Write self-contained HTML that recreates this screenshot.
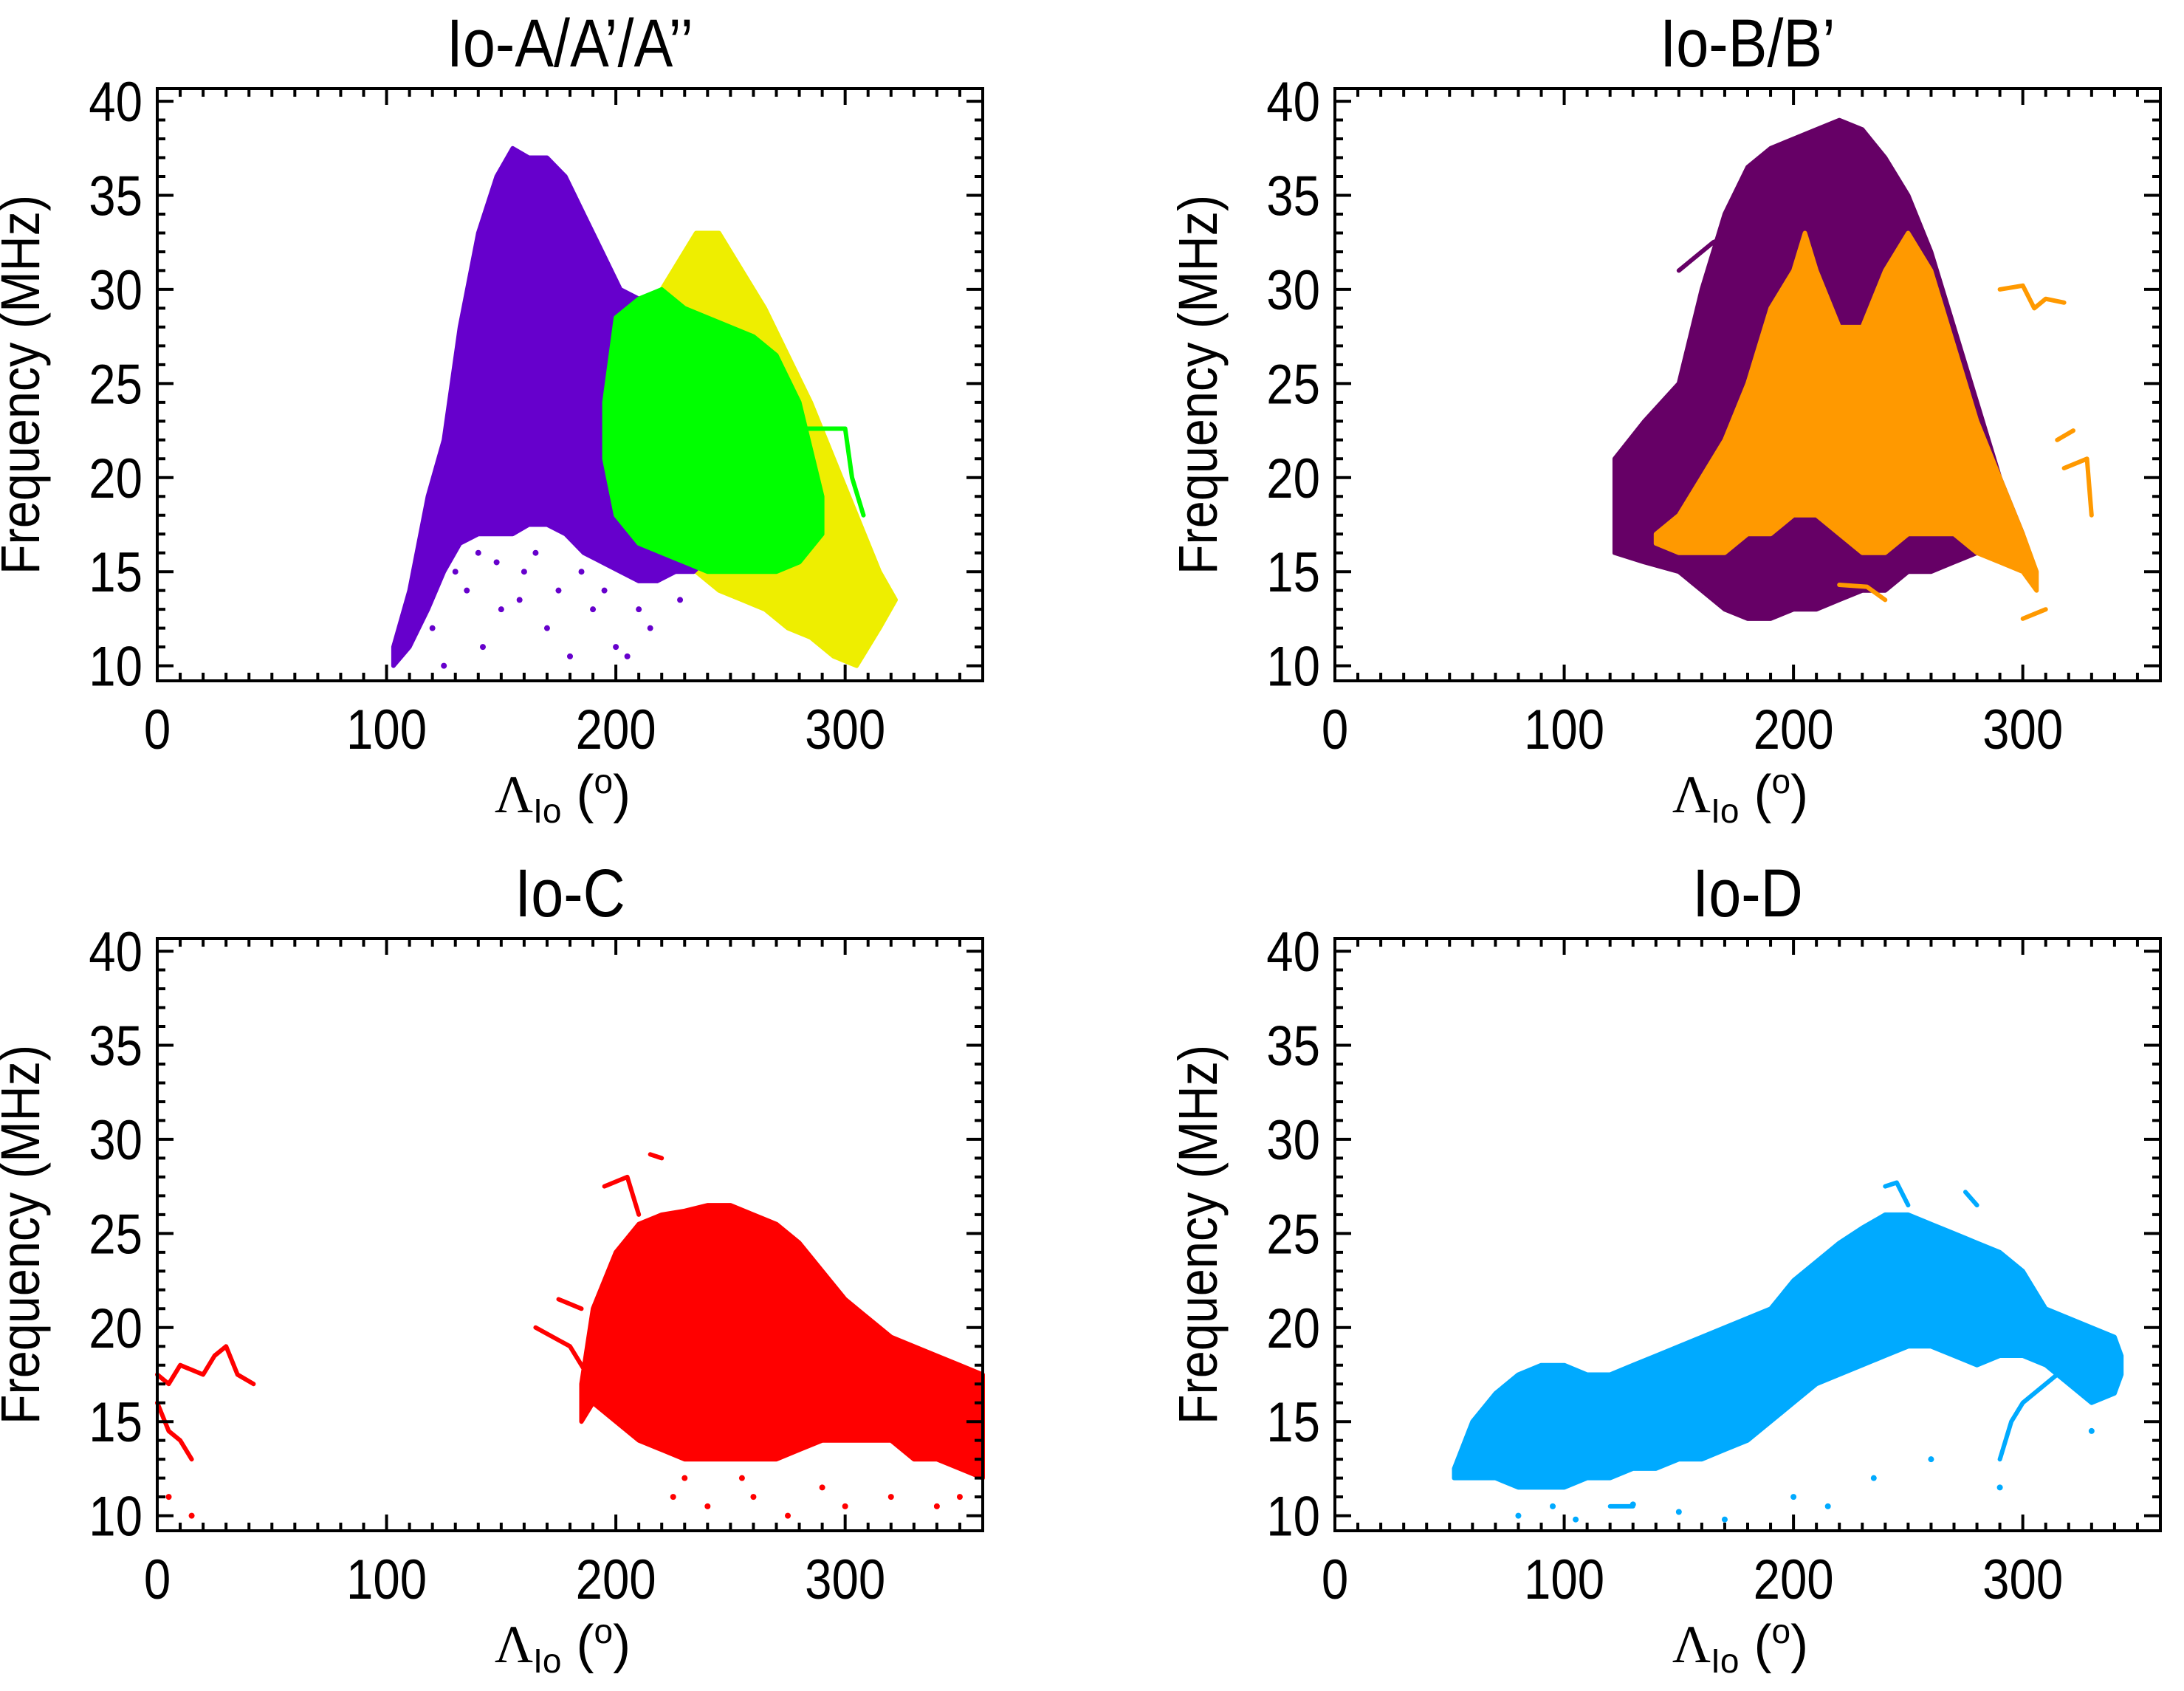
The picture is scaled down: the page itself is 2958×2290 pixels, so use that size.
<!DOCTYPE html>
<html><head><meta charset="utf-8"><style>
html,body{margin:0;padding:0;background:#fff;}
svg{display:block;}
text{font-family:"Liberation Sans",sans-serif;fill:#000;}
</style></head><body>
<svg id="chart" width="2958" height="2290" viewBox="0 0 2958 2290" xmlns="http://www.w3.org/2000/svg"></svg>
<script>
// ---- axis / tick data ----
const xTicks = [0, 100, 200, 300];
const yTicks = [10, 15, 20, 25, 30, 35, 40];
const panelTitles = ["Io-A/A\u2019/A\u2019\u2019", "Io-B/B\u2019", "Io-C", "Io-D"];

// ---- Panel A ----
const aYellowX = [200,220,235,245,255,265,275,285,295,305,315,322];
const aYellowUp = [28,30,33,33,31,29,26.5,24,21,18,15,13.5];
const aYellowLow = [22,18,15,14,13.5,13,12,11.5,10.5,10,12,13.5];
const aPurpleX = [103,110,118,125,132,140,148,155,162,170,178,186,194,202,210,218,226,234,242,250];
const aPurpleUp = [11,14,19,22,28,33,36,37.5,37,37,36,34,32,30,29.5,28,26,23,20,17];
const aPurpleLow = [10,11,13,15,16.5,17,17,17,17.5,17.5,17,16,15.5,15,14.5,14.5,15,15,16,16];
const aGreenX = [195,200,210,220,230,240,250,260,270,280,290];
const aGreenUp = [24,28.5,29.5,30,29,28.5,28,27.5,26.5,24,19];
const aGreenLow = [21,18,16.5,16,15.5,15,15,15,15,15.5,17];
const aGreenLineX = [280,300,303,308];
const aGreenLineY = [22.6,22.6,20,18];
const aPurpleDotsX = [120,135,142,150,160,170,180,190,200,215,228,140,175,205,125,148,158,185,195,210,165,130];
const aPurpleDotsY = [12,14,11,13,15,12,10.5,13,11,12,13.5,16,14,10.5,10,15.5,13.5,15,14,13,16,15];

// ---- Panel B ----
const bPurpleX = [122,135,150,160,170,180,190,200,210,220,230,240,250,260,270,280,290,300];
const bPurpleUp = [21,23,25,30,34,36.5,37.5,38,38.5,39,38.5,37,35,32,28,24,20,17];
const bPurpleLow = [16,15.5,15,14,13,12.5,12.5,13,13,13.5,14,14,15,15,15.5,16,16,16];
const bOrangeX = [140,150,160,170,180,190,200,205,210,220,230,240,250,260,270,280,290,300,306];
const bOrangeUp = [17,18,20,22,25,29,31,33,31,28,28,31,33,31,27,23,20,17,15];
const bOrangeLow = [16.5,16,16,16,17,17,18,18,18,17,16,16,17,17,17,16,15.5,15,14];
const bOrangeSegX = [[290,300,305,310,318],[315,322],[318,328,330],[220,232,240],[300,310]];
const bOrangeSegY = [[30,30.2,29,29.5,29.3],[22,22.5],[20.5,21,18],[14.3,14.2,13.5],[12.5,13]];
const bPurpleSegX = [[150,165,175]];
const bPurpleSegY = [[31,32.5,33]];

// ---- Panel C ----
const cRedX = [185,190,200,210,220,230,240,250,260,270,280,290,300,310,320,330,340,350,360];
const cRedUp = [17,21,24,25.5,26,26.2,26.5,26.5,26,25.5,24.5,23,21.5,20.5,19.5,19,18.5,18,17.5];
const cRedLow = [15,16,15,14,13.5,13,13,13,13,13,13.5,14,14,14,14,13,13,12.5,12];
const cRedSegX = [[0,5,10,20,25,30,35,42],[0,5,10,15],[165,180,190],[195,205,210],[215,220],[175,185]];
const cRedSegY = [[17.5,17,18,17.5,18.5,19,17.5,17],[16,14.5,14,13],[20,19,17],[27.5,28,26],[29.2,29],[21.5,21]];
const cRedDotsX = [5,15,225,240,260,275,290,300,320,340,350,230,255];
const cRedDotsY = [11,10,11,10.5,11,10,11.5,10.5,11,10.5,11,12,12];

// ---- Panel D ----
const dBlueX = [52,60,70,80,90,100,110,120,130,140,150,160,170,180,190,200,210,220,230,240,250,260,270,280,290,300,310,320,330,340,343];
const dBlueUp = [12.5,15,16.5,17.5,18,18,17.5,17.5,18,18.5,19,19.5,20,20.5,21,22.5,23.5,24.5,25.3,26,26,25.5,25,24.5,24,23,21,20.5,20,19.5,18.5];
const dBlueLow = [12,12,12,11.5,11.5,11.5,12,12,12.5,12.5,13,13,13.5,14,15,16,17,17.5,18,18.5,19,19,18.5,18,18.5,18.5,18,17,16,16.5,17.5];
const dBlueSegX = [[240,245,250],[275,280],[290,295,300,310,320],[120,130]];
const dBlueSegY = [[27.5,27.7,26.5],[27.2,26.5],[13,15,16,17,18],[10.5,10.5]];
const dBlueDotsX = [80,95,105,130,150,170,200,215,235,260,290,330];
const dBlueDotsY = [10,10.5,9.8,10.6,10.2,9.8,11,10.5,12,13,11.5,14.5];

const X_MIN = 0, X_MAX = 360, Y_MIN = 9.2, Y_MAX = 40.67;
const PW = 1118, PH = 802;
const panels = [{x:213,y:120},{x:1808,y:120},{x:213,y:1271},{x:1808,y:1271}];
const NS = "http://www.w3.org/2000/svg";
const svg = document.getElementById("chart");

function mk(tag, attrs, parent){
  const e = document.createElementNS(NS, tag);
  for (const k in attrs) e.setAttribute(k, attrs[k]);
  parent.appendChild(e);
  return e;
}
function sx(p, v){ return p.x + (v - X_MIN) / (X_MAX - X_MIN) * PW; }
function sy(p, v){ return p.y + PH - (v - Y_MIN) / (Y_MAX - Y_MIN) * PH; }

function area(g, p, xs, up, low, color, name){
  let pts = [];
  for (let i=0;i<xs.length;i++) pts.push(sx(p,xs[i]).toFixed(1)+","+sy(p,up[i]).toFixed(1));
  for (let i=xs.length-1;i>=0;i--) pts.push(sx(p,xs[i]).toFixed(1)+","+sy(p,low[i]).toFixed(1));
  const e = mk("polygon", {points: pts.join(" "), fill: color, stroke: color, "stroke-width": 6, "stroke-linejoin":"round"}, g);
  
  
}
function seg(g, p, xs, ys, color, name){
  let pts = [];
  for (let i=0;i<xs.length;i++) pts.push(sx(p,xs[i]).toFixed(1)+","+sy(p,ys[i]).toFixed(1));
  const e = mk("polyline", {points: pts.join(" "), fill: "none", stroke: color, "stroke-width": 6, "stroke-linejoin":"round", "stroke-linecap":"round"}, g);
  
  
}
function dots(g, p, xs, ys, color, name){
  for (let i=0;i<xs.length;i++){
    const e = mk("circle", {cx: sx(p,xs[i]), cy: sy(p,ys[i]), r: 4, fill: color}, g);
    
    
  }
}
function label(g, x, y, size, anchor, str, name){
  const e = mk("text", {x: 0, y: 0, "font-size": size, "text-anchor": anchor, transform: `translate(${x},${y}) scale(0.86,1)`}, g);
  e.textContent = str;
  
  
  return e;
}

function axes(p, idx){
  const g = mk("g", {}, svg);
  
  
  const frame = mk("rect", {x:p.x, y:p.y, width:PW, height:PH, fill:"none", stroke:"#000", "stroke-width":4}, g);
  
  
  let d = "";
  for (let v = X_MIN; v <= X_MAX; v += 10){
    const x = sx(p, v), L = (v % 100 === 0) ? 22 : 11;
    d += `M${x},${p.y+PH}v${-L}M${x},${p.y}v${L}`;
  }
  for (let v = 10; v <= 40; v += 1){
    const y = sy(p, v), L = (v % 5 === 0) ? 22 : 11;
    d += `M${p.x},${y}h${L}M${p.x+PW},${y}h${-L}`;
  }
  const t = mk("path", {d: d, stroke:"#000", "stroke-width":4, fill:"none"}, g);
  
  
  xTicks.forEach(v=>{
    label(g, sx(p,v), p.y+PH+92, 76, "middle", String(v), 'x-tick-label');
  });
  yTicks.forEach(v=>{
    label(g, p.x-20, sy(p,v)+27, 76, "end", String(v), 'y-tick-label');
  });
  const yt = mk("text", {x: 0, y: 0, "font-size":74, "text-anchor":"middle", transform:`translate(${p.x-160},${p.y+PH/2}) rotate(-90) scale(0.9,1)`}, g);
  yt.textContent = "Frequency (MHz)";
  
  
  const xt = mk("text", {x: p.x+PW/2-10, y: p.y+PH+178, "font-size":72, "text-anchor":"middle"}, g);
  xt.innerHTML = '<tspan font-family="Liberation Serif, serif">\u039B</tspan><tspan font-size="46" dy="14">Io</tspan><tspan dy="-14"> (</tspan><tspan font-size="46" dy="-26">o</tspan><tspan dy="26">)</tspan>';
  
  
  label(g, p.x+PW/2, p.y-30, 92, "middle", panelTitles[idx], 'panel-title');
}

function dataGroup(idx){
  const g = mk("g", {}, svg);
  
  
  return g;
}

// Panel A
(function(){
  const p = panels[0], g = dataGroup(0);
  area(g,p,aYellowX,aYellowUp,aYellowLow,"#eeee00","io-a-double-prime-cloud");
  dots(g,p,aPurpleDotsX,aPurpleDotsY,"#6600cc","io-a-sparse-points");
  area(g,p,aPurpleX,aPurpleUp,aPurpleLow,"#6600cc","io-a-cloud");
  area(g,p,aGreenX,aGreenUp,aGreenLow,"#00ff00","io-a-prime-cloud");
  seg(g,p,aGreenLineX,aGreenLineY,"#00ff00","io-a-prime-track");
})();
// Panel B
(function(){
  const p = panels[1], g = dataGroup(1);
  area(g,p,bPurpleX,bPurpleUp,bPurpleLow,"#660066","io-b-cloud");
  bPurpleSegX.forEach((xs,i)=>seg(g,p,xs,bPurpleSegY[i],"#660066","io-b-track"));
  area(g,p,bOrangeX,bOrangeUp,bOrangeLow,"#ff9900","io-b-prime-cloud");
  bOrangeSegX.forEach((xs,i)=>seg(g,p,xs,bOrangeSegY[i],"#ff9900","io-b-prime-track"));
})();
// Panel C
(function(){
  const p = panels[2], g = dataGroup(2);
  area(g,p,cRedX,cRedUp,cRedLow,"#ff0000","io-c-cloud");
  cRedSegX.forEach((xs,i)=>seg(g,p,xs,cRedSegY[i],"#ff0000","io-c-track"));
  dots(g,p,cRedDotsX,cRedDotsY,"#ff0000","io-c-sparse-points");
})();
// Panel D
(function(){
  const p = panels[3], g = dataGroup(3);
  area(g,p,dBlueX,dBlueUp,dBlueLow,"#00aaff","io-d-cloud");
  dBlueSegX.forEach((xs,i)=>seg(g,p,xs,dBlueSegY[i],"#00aaff","io-d-track"));
  dots(g,p,dBlueDotsX,dBlueDotsY,"#00aaff","io-d-sparse-points");
})();

panels.forEach((p,i)=>axes(p,i));
</script>
</body></html>
